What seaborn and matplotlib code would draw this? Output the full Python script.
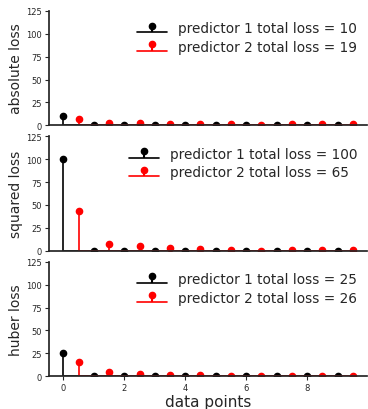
import matplotlib
matplotlib.use("Agg")
import matplotlib.pyplot as plt
import numpy as np
import seaborn as sns

# data points: predictor 1 at integer positions, predictor 2 shifted by 0.5
x_pred1 = [0, 1, 2, 3, 4, 5, 6, 7, 8, 9]
x_pred2 = [0.5, 1.5, 2.5, 3.5, 4.5, 5.5, 6.5, 7.5, 8.5, 9.5]

abs_pred1 = [10, 0, 0, 0, 0, 0, 0, 0, 0, 0]
abs_pred2 = [6.6, 2.7, 2.2, 1.8, 1.4, 1.1, 0.4, 0.9, 0.9, 1.1]

sq_pred1 = [100, 0, 0, 0, 0, 0, 0, 0, 0, 0]
sq_pred2 = [43.6, 7.3, 4.8, 3.2, 2.0, 1.2, 0.2, 0.8, 0.8, 1.2]

hub_pred1 = [25, 0, 0, 0, 0, 0, 0, 0, 0, 0]
hub_pred2 = [15.0, 4.2, 2.4, 1.6, 1.0, 0.6, 0.1, 0.4, 0.4, 0.6]

panels = [
    ("absolute loss", abs_pred1, abs_pred2),
    ("squared loss", sq_pred1, sq_pred2),
    ("huber loss", hub_pred1, hub_pred2),
]

sns.set_theme(style="ticks", color_codes=False)
plt.rcParams["font.family"] = ["DejaVu Sans"]

fig, axes = plt.subplots(3, 1, figsize=(3.68, 4.10), dpi=100, sharex=True)
fig.subplots_adjust(left=0.133, right=0.998, top=0.971, bottom=0.080, hspace=0.097)

for ax, (name, p1, p2) in zip(axes, panels):
    s1 = ax.stem(x_pred1, p1, linefmt="-", markerfmt="o", basefmt="-",
                 label="predictor 1 total loss = %d" % round(sum(p1)))
    s2 = ax.stem(x_pred2, p2, linefmt="-", markerfmt="o", basefmt="-",
                 label="predictor 2 total loss = %d" % round(sum(p2)))
    for s, c in ((s1, "black"), (s2, "red")):
        s.markerline.set_color(c)
        s.markerline.set_markersize(4.5)
        s.stemlines.set_color(c)
        s.stemlines.set_linewidth(1.2)
        s.baseline.set_color(c)
        s.baseline.set_linewidth(1.2)
    ax.set_ylim(0, 125)
    ax.set_yticks([0, 25, 50, 75, 100, 125])
    ax.set_ylabel(name, fontsize=10, labelpad=2)
    ax.tick_params(axis="both", labelsize=6, length=3, width=0.8, pad=2)
    ax.legend(loc="upper right", frameon=False, fontsize=9.8, handlelength=2.2,
              borderaxespad=0.35, labelspacing=0.35)
    sns.despine(ax=ax)
    if ax is not axes[-1]:
        ax.tick_params(axis="x", bottom=False)

axes[-1].set_xticks([0, 2, 4, 6, 8])
axes[-1].set_xlabel("data points", fontsize=11, labelpad=1)

fig.savefig("out.png", dpi=100)
